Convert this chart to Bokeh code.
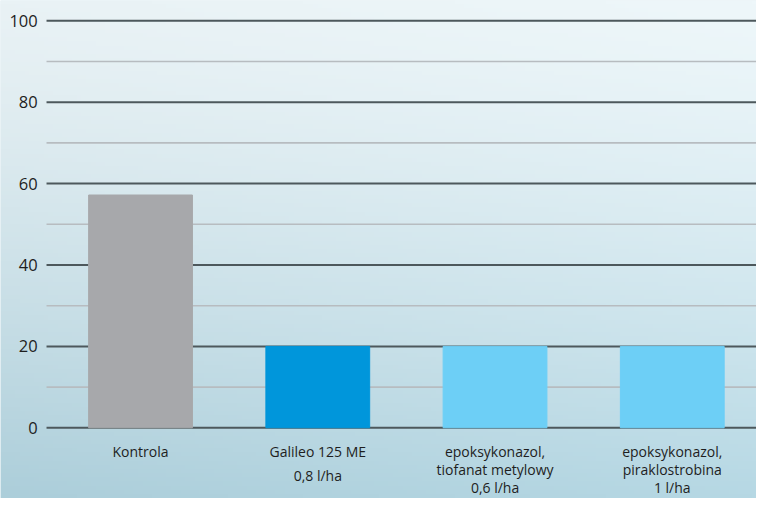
import numpy as np
from bokeh.plotting import figure
from bokeh.models import Range1d, ColumnDataSource
from bokeh.core.properties import value
from bokeh.embed import file_html
from bokeh.resources import INLINE

# ---- data ----
categories = ["Kontrola", "Galileo 125 ME", "epoksykonazol, tiofanat metylowy", "epoksykonazol, piraklostrobina"]
label_lines = [
    ["Kontrola"],
    ["Galileo 125 ME", "0,8 l/ha"],
    ["epoksykonazol,", "tiofanat metylowy", "0,6 l/ha"],
    ["epoksykonazol,", "piraklostrobina", "1 l/ha"],
]
values = [57.2, 20, 20, 20]
bar_colors = ["#a7a8ab", "#0096db", "#6dcff6", "#6dcff6"]
major_ticks = [0, 20, 40, 60, 80, 100]
minor_ticks = [10, 30, 50, 70, 90]

W, H = 756, 498
REF_W, REF_H = 772, 514
PX0, STEP = 143, 181.0      # reference pixel of first category, spacing
PY0, PPU = 441, 4.2         # reference pixel of y=0, pixels per unit

x_start = -PX0 / STEP
x_end = (REF_W - PX0) / STEP
y_start = (PY0 - REF_H) / PPU
y_end = PY0 / PPU

p = figure(width=W, height=H, output_backend="svg", toolbar_location=None,
           x_range=Range1d(x_start, x_end), y_range=Range1d(y_start, y_end),
           min_border=0, min_border_left=0, min_border_right=0,
           min_border_top=0, min_border_bottom=0)
p.axis.visible = False
p.grid.visible = False
p.outline_line_color = None
p.background_fill_color = "#dcecf2"
p.border_fill_color = "#dcecf2"

# background gradient
ny, nx = 120, 160
ty = np.linspace(0, 1, ny)[:, None]   # 0 = bottom row
tx = np.linspace(0, 1, nx)[None, :]
top = np.array([0xee, 0xf7, 0xfa], float)
bot = np.array([0xb6, 0xd8, 0xe4], float)
img = np.zeros((ny, nx), dtype=np.uint32)
view = img.view(dtype=np.uint8).reshape((ny, nx, 4))
f = (1 - ty) ** 1.3
for c in range(3):
    col = top[c] * (1 - f) + bot[c] * f
    col = col - (1 - tx) * 10 * (1 - ty * 0.5)
    view[:, :, c] = np.clip(col, 0, 255).astype(np.uint8)
view[:, :, 3] = 255
p.image_rgba(image=[img], x=x_start, y=y_start, dw=x_end - x_start, dh=y_end - y_start)

# grid lines
gx0 = (47 - PX0) / STEP
p.segment(x0=[gx0] * len(minor_ticks), x1=[x_end + 1] * len(minor_ticks),
          y0=minor_ticks, y1=minor_ticks, line_color="#b7bcc0", line_width=1.6)
p.segment(x0=[gx0] * len(major_ticks), x1=[x_end + 1] * len(major_ticks),
          y0=major_ticks, y1=major_ticks, line_color="#4d585c", line_width=2)

# bars
xs = list(range(len(categories)))
src = ColumnDataSource(dict(x=xs, top=values, color=bar_colors))
p.vbar(x="x", top="top", bottom=0, width=106 / STEP, color="color", source=src)

# y tick labels
lx = (38 - PX0) / STEP
p.text(x=[lx] * len(major_ticks), y=major_ticks, text=[str(t) for t in major_ticks],
       text_align="right", text_baseline="middle", text_font=value("Open Sans"),
       text_font_size="16.5px", text_color="#1e1e1e")

# category labels
tx_, ty_, tt_ = [], [], []
for i, lines in enumerate(label_lines):
    if len(lines) == 2:
        offs = [465, 490]
    else:
        offs = [465, 484, 503][:len(lines)]
    for ln, py in zip(lines, offs):
        tx_.append(i)
        ty_.append((PY0 - py) / PPU)
        tt_.append(ln)
p.text(x=tx_, y=ty_, text=tt_, text_align="center", text_baseline="middle",
       text_font=value("Open Sans"), text_font_size="14px", text_color="#1e1e1e")

open("out.html", "w").write(file_html(p, INLINE))
